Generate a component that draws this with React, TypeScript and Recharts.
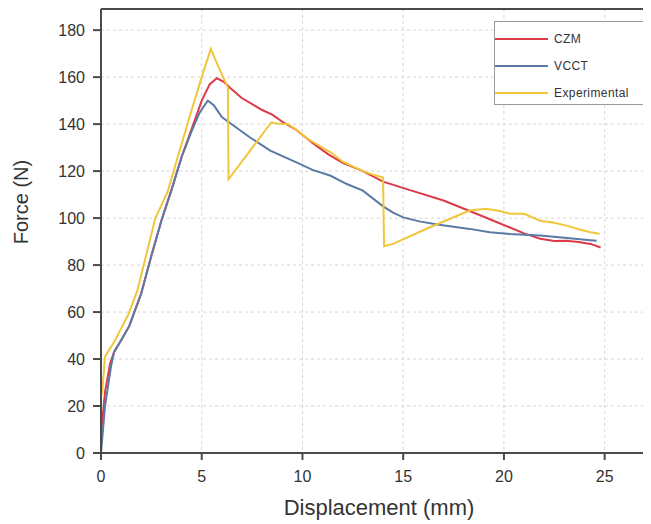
import { LineChart, Line, XAxis, YAxis, CartesianGrid, ReferenceLine, Label } from "recharts";

// displacement (mm), force (N)
const czm = [
  [0, 8], [0.2, 26], [0.45, 38], [0.65, 43], [1.0, 48], [1.4, 54], [2.0, 68], [2.5, 84],
  [3.0, 99], [3.5, 112], [4.0, 126], [4.5, 138], [5.0, 150], [5.4, 157], [5.75, 159.5],
  [6.1, 158], [6.4, 155.5], [7.0, 151], [7.4, 149], [8.0, 146], [8.5, 144], [9.0, 141],
  [9.7, 137.5], [10.5, 132], [11.3, 127], [12.0, 123.5], [13.0, 120], [14.0, 115.5],
  [15.3, 112], [17.0, 107.5], [18.3, 103], [19.3, 99.5], [20.3, 96], [21.0, 93.5],
  [21.8, 91.2], [22.5, 90.2], [23.1, 90.4], [23.7, 89.8], [24.3, 89], [24.8, 87.5],
];

const vcct = [
  [0, 0], [0.2, 20], [0.5, 37], [0.65, 43], [1.0, 48], [1.4, 54], [2.0, 68], [2.5, 84],
  [3.0, 99], [3.5, 112], [4.0, 126], [4.5, 137], [4.9, 145], [5.3, 150], [5.6, 148],
  [6.0, 143], [6.4, 140.5], [7.4, 134.3], [8.4, 128.7], [9.7, 123.7], [10.5, 120.5],
  [11.4, 118], [12.2, 114.5], [13.0, 111.7], [14.0, 105], [14.5, 102.3], [15.0, 100.3],
  [15.8, 98.6], [16.7, 97.3], [18.3, 95.4], [19.3, 94], [20.3, 93.2], [21.8, 92.6],
  [23.0, 91.6], [24.3, 90.6], [24.6, 90.4],
];

const experimental = [
  [0.05, 25], [0.2, 41], [0.7, 48], [1.36, 59], [1.8, 69], [2.7, 100], [3.3, 111],
  [3.9, 128.7], [4.5, 146], [5.0, 160], [5.45, 172], [5.8, 165], [6.3, 155.5], [6.33, 116.5],
  [8.45, 140.7], [8.8, 140.2], [9.3, 140], [9.8, 137], [10.2, 134], [10.8, 131], [11.4, 128],
  [12.0, 124], [12.5, 122], [13.0, 120], [13.5, 118.5], [14.0, 117.3], [14.05, 88],
  [14.5, 89], [16.3, 96], [18.3, 103.2], [19.1, 104], [19.8, 103], [20.3, 101.8],
  [21.0, 101.8], [21.8, 98.9], [22.5, 98], [23.1, 96.8], [23.8, 95], [24.3, 94], [24.75, 93.3],
];

const xTicks = [0, 5, 10, 15, 20, 25];
const yTicks = [0, 20, 40, 60, 80, 100, 120, 140, 160, 180];
const xMax = 27.3;
const yMax = 189;

const colours = {
  czm: "#dd3a48",
  vcct: "#5a7aa5",
  experimental: "#f0c63a",
  axis: "#4a4a4a",
  grid: "#d6d6d6",
  text: "#333333",
};

const font = '"Liberation Sans", Arial, sans-serif';

const series = [
  { name: "CZM", points: czm, colour: colours.czm },
  { name: "VCCT", points: vcct, colour: colours.vcct },
  { name: "Experimental", points: experimental, colour: colours.experimental },
];

const toRows = (pts: number[][]) => pts.map(([x, y]) => ({ x, y }));

const LegendBox = () => (
  <div style={{ position: "absolute", top: 13, left: 486, width: 148, height: 82, border: "1px solid #9a9a9a", background: "#fff", fontFamily: font, fontSize: 12, color: colours.text }}>
    {series.map((s, i) => (
      <div key={s.name} style={{ position: "absolute", top: 10 + i * 27, left: 0, height: 14, display: "flex", alignItems: "center", whiteSpace: "nowrap" }}>
        <span style={{ display: "inline-block", width: 53, height: 2, background: s.colour }} />
        <span style={{ marginLeft: 6, letterSpacing: 0.4 }}>{s.name}</span>
      </div>
    ))}
  </div>
);

export default function App() {
  return (
    <div style={{ position: "relative", width: 643, height: 516 }}>
      <LineChart width={643} height={516} margin={{ top: 1, right: 0, bottom: 0, left: 0 }} style={{ fontFamily: font }}>
        <CartesianGrid stroke={colours.grid} strokeDasharray="3 3" />
        <XAxis
          type="number"
          dataKey="x"
          domain={[0, xMax]}
          ticks={xTicks}
          allowDataOverflow
          height={71}
          stroke={colours.axis}
          strokeWidth={2}
          tickSize={7}
          tickMargin={11}
          tick={{ fill: colours.text, fontSize: 16 }}
        >
          <Label
            content={() => (
              <text x={371} y={499} textAnchor="middle" dominantBaseline="central" fontSize={22} fill={colours.text} fontFamily={font}>
                Displacement (mm)
              </text>
            )}
          />
        </XAxis>
        <YAxis
          type="number"
          dataKey="y"
          domain={[0, yMax]}
          ticks={yTicks}
          allowDataOverflow
          width={93}
          stroke={colours.axis}
          strokeWidth={2}
          tickSize={8}
          tickMargin={8}
          tick={{ fill: colours.text, fontSize: 16 }}
        >
          <Label
            content={() => (
              <text x={13} y={194} textAnchor="middle" dominantBaseline="central" fontSize={20} fill={colours.text} fontFamily={font} transform="rotate(-90, 13, 194)">
                Force (N)
              </text>
            )}
          />
        </YAxis>
        <ReferenceLine y={yMax} stroke={colours.axis} strokeWidth={2} />
        {series.map((s) => (
          <Line
            key={s.name}
            data={toRows(s.points)}
            dataKey="y"
            name={s.name}
            type="linear"
            stroke={s.colour}
            strokeWidth={2}
            dot={false}
            isAnimationActive={false}
          />
        ))}
      </LineChart>
      <LegendBox />
    </div>
  );
}
